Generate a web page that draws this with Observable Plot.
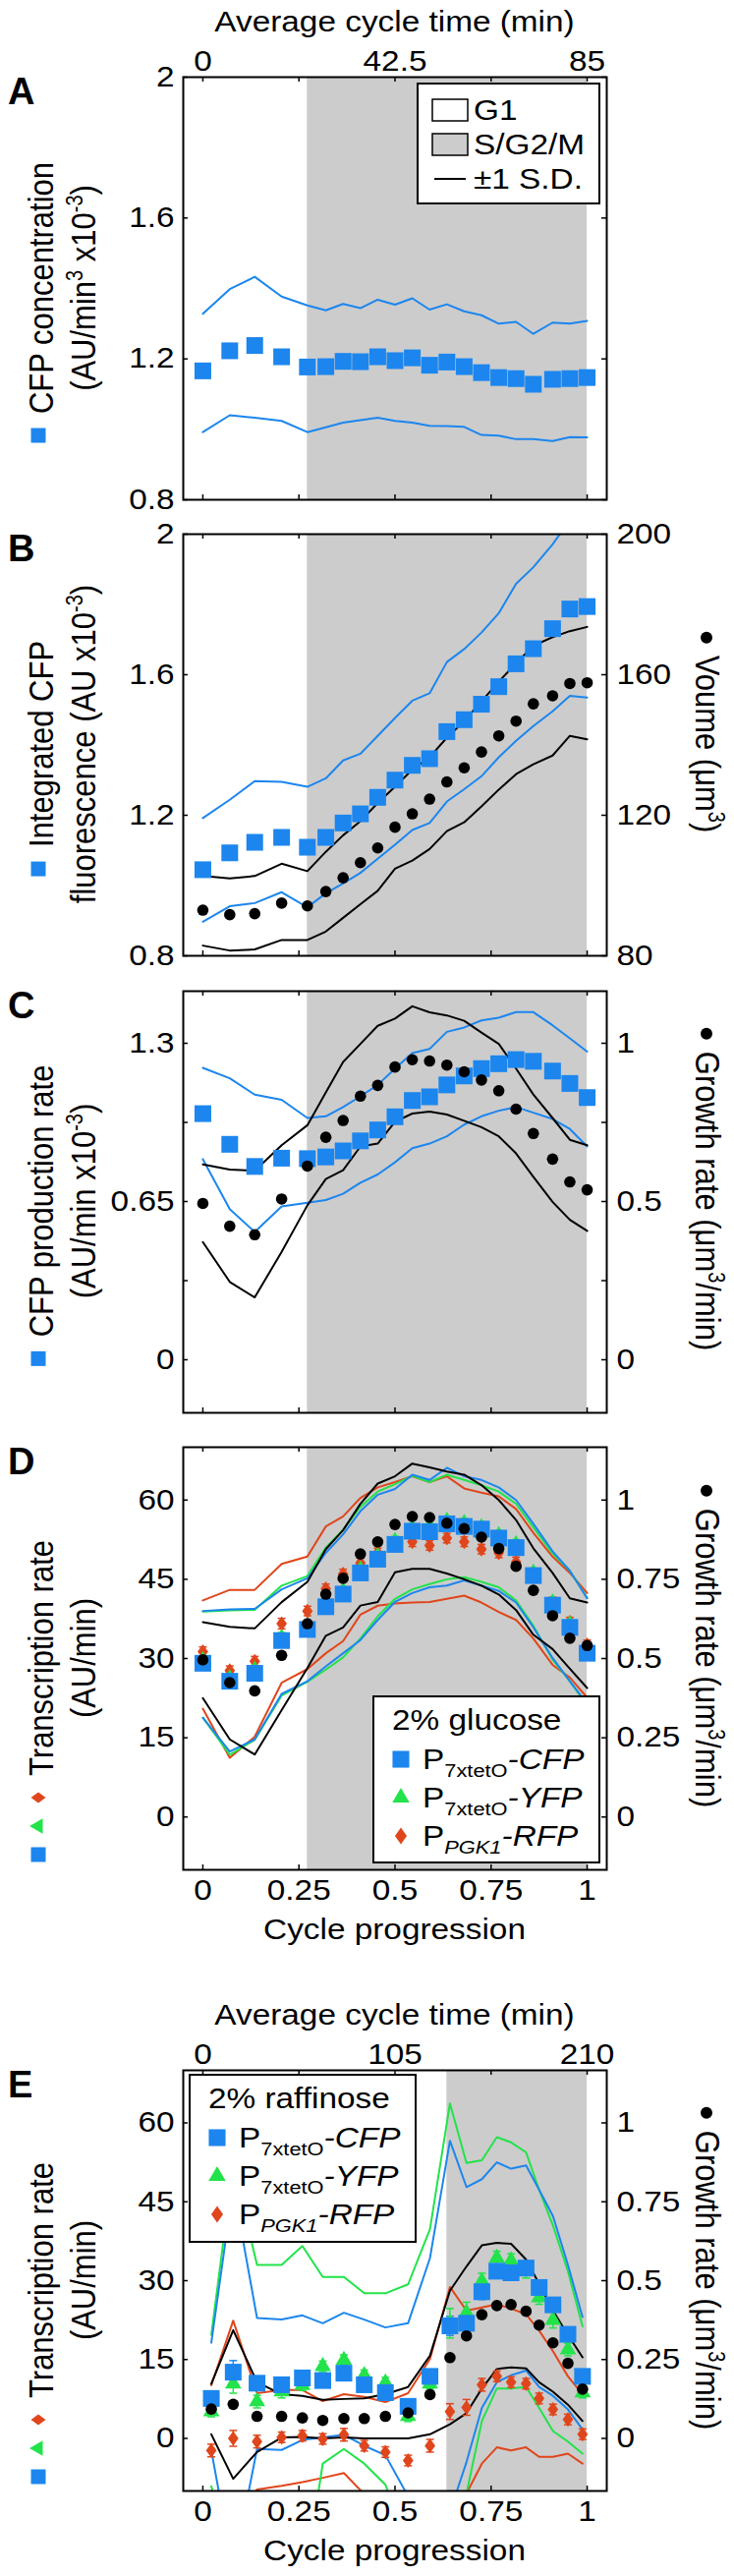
<!DOCTYPE html>
<html><head><meta charset="utf-8">
<script src="https://cdn.jsdelivr.net/npm/d3@7"></script>
<script src="https://cdn.jsdelivr.net/npm/@observablehq/plot@0.6"></script>
<style>
html,body{margin:0;padding:0;background:#fff;}
#fig{width:747px;}
#fig svg{display:block;overflow:visible;}
</style></head><body><div id="fig"></div>
<script>
// ---------- data ----------
const xGlu = [0,0.07,0.135,0.205,0.272,0.32,0.365,0.41,0.455,0.5,0.545,0.59,0.635,0.68,0.725,0.77,0.815,0.86,0.91,0.955,1];
const phaseGlu = [0.272, 1];
const xRaf = [0.022,0.079,0.141,0.205,0.259,0.312,0.367,0.420,0.475,0.534,0.591,0.643,0.686,0.726,0.765,0.802,0.841,0.875,0.911,0.950,0.988];
const phaseRaf = [0.635, 1];

const xTickVals = [0,0.25,0.5,0.75,1];
const xTickLabels = ["0","0.25","0.5","0.75","1"];
const topTickVals = [0,0.5,1];
const topLabelsGlu = ["0","42.5","85"];
const topLabelsRaf = ["0","105","210"];

// A
const cfpConc   = [1.166,1.223,1.238,1.206,1.177,1.178,1.193,1.192,1.206,1.195,1.203,1.182,1.191,1.178,1.161,1.147,1.144,1.128,1.142,1.144,1.147];
const cfpConcHi = [1.328,1.398,1.433,1.377,1.352,1.338,1.356,1.344,1.368,1.354,1.372,1.340,1.355,1.335,1.324,1.300,1.305,1.271,1.303,1.300,1.308];
const cfpConcLo = [0.992,1.040,1.033,1.024,0.992,1.006,1.019,1.026,1.033,1.024,1.019,1.010,1.009,1.007,0.984,0.982,0.972,0.972,0.967,0.978,0.977];
const aTicks = [0.8,1.2,1.6,2];
const aTickLabels = ["0.8","1.2","1.6","2"];

// B
const intCfp   = [1.045,1.093,1.123,1.137,1.109,1.137,1.178,1.204,1.251,1.300,1.342,1.361,1.438,1.472,1.516,1.566,1.631,1.674,1.731,1.787,1.794];
const intCfpHi = [1.192,1.244,1.297,1.295,1.281,1.305,1.356,1.375,1.426,1.477,1.526,1.547,1.636,1.673,1.720,1.775,1.859,1.906,1.971,2.04,2.10];
const intCfpLo = [0.897,0.941,0.950,0.981,0.938,0.978,1.006,1.036,1.076,1.116,1.158,1.178,1.239,1.274,1.311,1.365,1.412,1.454,1.496,1.540,1.535];
const volume   = [93,91.7,92,95,94.2,98.3,102.2,106.5,110.7,116.6,120.4,124.6,129.5,133.5,138,142.6,146.8,151.7,154,157.5,157.7];
const volumeHi = [102.7,102,102.7,106.2,104.1,109.6,114.3,118.3,123.5,128.1,133,136.5,142.1,146.8,152.4,158,163.3,168.2,170.7,172.4,173.6];
const volumeLo = [82.9,81.5,81.8,84.5,84.5,86.9,90.8,94.7,98.5,104.8,107.1,110.4,115.5,118,122.5,127.3,131.7,134.5,137,142.6,141.6];
const bTicks = [0.8,1.2,1.6,2];
const bTickLabels = ["0.8","1.2","1.6","2"];
const bRightLabels = ["80","120","160","200"];

// C
const cfpProd   = [1.011,0.885,0.794,0.828,0.826,0.833,0.858,0.899,0.944,0.998,1.065,1.080,1.129,1.166,1.196,1.216,1.233,1.226,1.186,1.135,1.077];
const cfpProdHi = [1.199,1.156,1.089,1.068,0.993,1.000,1.038,1.082,1.129,1.196,1.260,1.277,1.347,1.365,1.394,1.405,1.428,1.428,1.374,1.320,1.266];
const cfpProdLo = [0.824,0.619,0.525,0.630,0.645,0.656,0.682,0.727,0.761,0.811,0.869,0.888,0.918,0.966,1.000,1.023,1.038,1.015,0.989,0.948,0.876];
const growthC   = [0.494,0.422,0.395,0.508,0.612,0.703,0.756,0.833,0.867,0.925,0.948,0.944,0.931,0.910,0.884,0.850,0.792,0.715,0.634,0.562,0.537];
const growthCHi = [0.617,0.601,0.597,0.678,0.741,0.845,0.941,0.998,1.055,1.078,1.117,1.098,1.088,1.071,1.034,0.998,0.920,0.838,0.764,0.695,0.678];
const growthCLo = [0.372,0.246,0.197,0.341,0.488,0.571,0.599,0.674,0.683,0.752,0.778,0.784,0.775,0.755,0.735,0.706,0.652,0.578,0.499,0.442,0.407];
const cTicks = [0,0.325,0.65,0.975,1.3];
const cLabelTicks = [0,0.65,1.3];
const cTickLabels = ["0","0.65","1.3"];
const cRightLabels = ["0","0.5","1"];

// D (2% glucose)
const cfpTx   = [29.1,25.7,27.2,33.4,35.5,39.8,42.2,46.2,48.8,51.6,54.1,54.0,55.5,55.0,54.5,52.8,51.0,45.7,40.1,35.9,31.0];
const yfpTx   = [29.6,26.2,27.8,33.9,35.8,40.6,42.7,46.8,49.3,52.2,54.6,54.7,56.0,55.6,54.8,53.3,51.6,46.2,40.6,36.4,31.5];
const rfpTx   = [31.3,27.7,29.5,36.6,39.0,43.2,46.0,48.1,50.0,51.7,52.1,51.4,52.8,52.1,50.7,50.0,48.3,45.5,40.7,36.9,32.6];
const txErrD  = [0.9,0.9,0.9,1.0,0.9,0.9,0.9,0.9,0.9,0.9,0.9,0.9,0.9,0.9,0.9,0.9,0.9,0.9,0.9,0.9,0.9];
const growthD   = [0.496,0.424,0.398,0.510,0.610,0.703,0.753,0.830,0.868,0.923,0.948,0.945,0.927,0.910,0.883,0.847,0.791,0.715,0.635,0.564,0.541];
const growthDHi = [0.615,0.600,0.595,0.678,0.742,0.845,0.905,0.988,1.052,1.075,1.115,1.103,1.090,1.080,1.047,1.000,0.937,0.848,0.770,0.690,0.677];
const growthDLo = [0.375,0.245,0.197,0.337,0.470,0.572,0.598,0.667,0.678,0.772,0.783,0.783,0.768,0.750,0.730,0.702,0.653,0.575,0.530,0.468,0.407];
const cfpTxHi = [39.0,39.3,39.4,43.1,45.2,50.0,53.5,57.9,61.0,62.1,64.8,63.8,66.1,64.5,63.8,62.4,60.0,55.5,50.3,46.6,41.4];
const cfpTxLo = [18.8,12.4,14.7,23.3,25.7,28.5,31.0,33.5,37.3,40.7,42.4,43.5,43.8,44.8,43.8,42.8,40.6,35.9,30.1,25.7,21.4];
const yfpTxHi = [38.9,39.1,39.2,43.8,45.6,51.0,54.4,58.7,61.6,63.0,64.6,63.4,64.8,63.8,62.8,61.6,59.3,54.8,49.9,46.6,41.5];
const yfpTxLo = [18.8,11.8,14.6,23.0,25.6,27.9,30.2,33.8,38.0,41.3,43.1,44.1,45.0,45.4,44.5,43.5,41.0,36.2,29.8,25.7,21.1];
const rfpTxHi = [41.0,43.0,43.0,47.9,49.3,55.0,56.9,60.4,62.4,63.4,64.5,63.4,64.5,62.2,61.4,60.7,58.3,53.8,49.3,46.2,42.4];
const rfpTxLo = [20.5,11.2,15.2,25.4,28.0,31.0,33.3,38.3,40.0,40.4,40.6,40.7,41.3,41.9,40.6,38.8,37.3,33.8,28.8,26.4,22.6];
const txTicks = [0,15,30,45,60];
const txTickLabels = ["0","15","30","45","60"];
const growthTickLabels = ["0","0.25","0.5","0.75","1"];

// E (2% raffinose)
const cfpRaf = [7.6,12.6,10.5,10.2,11.5,11.0,12.4,10.2,8.7,6.1,11.8,21.4,21.9,27.9,31.8,31.5,32.4,28.7,25.4,19.8,11.8];
const yfpRaf = [5.1,10.4,7.0,8.9,10.1,13.7,14.9,12.0,10.6,4.2,10.4,21.9,23.9,29.9,34.3,33.8,31.8,26.8,22.5,16.9,8.7];
const rfpRaf = [-2.3,0.0,-0.6,0.2,0.5,-0.1,0.7,-1.4,-2.6,-4.2,-1.4,5.1,5.9,10.2,11.8,10.7,10.4,7.6,5.5,3.6,0.8];
const cfpRafErr = [1.2,2.2,1.2,1.2,1.2,1.2,1.2,1.2,1.2,1.2,1.2,1.8,1.8,1.5,1.3,1.3,1.3,1.3,1.3,1.2,1.0];
const yfpRafErr = [1.0,1.8,1.2,1.2,1.0,1.0,1.0,1.0,1.0,1.0,1.0,2.8,2.0,1.5,1.3,1.3,1.3,1.3,1.5,1.2,1.0];
const rfpRafErr = [1.2,1.5,1.2,1.0,1.0,1.0,1.2,1.0,1.0,1.0,1.2,1.5,1.5,1.2,1.0,1.0,1.0,1.0,1.0,1.0,1.0];
const growthE   = [0.093,0.108,0.070,0.070,0.065,0.057,0.063,0.063,0.070,0.081,0.139,0.256,0.325,0.392,0.421,0.424,0.403,0.359,0.303,0.238,0.156];
const growthEHi = [0.173,0.343,0.178,0.140,0.135,0.122,0.125,0.127,0.140,0.163,0.262,0.468,0.545,0.612,0.620,0.617,0.567,0.490,0.405,0.328,0.257];
const growthELo = [0.013,-0.128,-0.043,0.003,0.005,0,0.003,0,0,0,0.013,0.045,0.080,0.158,0.220,0.225,0.222,0.178,0.148,0.107,0.055];
const cfpRafHi = [18.2,48,22.9,22.6,23.4,21.9,23.9,22.6,21.1,21.9,34.3,56.6,47.8,49.3,52.5,51.3,51.9,47.3,42.3,33.0,23.1];
const cfpRafLo = [-2.3,-25,-2.0,-2.2,-0.3,0.2,0.7,-1.4,-3.2,-11,-15,-14,-4.5,5.8,10.7,12.0,12.9,9.8,8.1,5.5,1.7];
const yfpRafHi = [19.7,52,33.0,33.0,36.6,30.7,30.7,27.6,27.6,29.3,39.8,63.7,52.4,52.9,57.3,56.3,54.4,47.3,40.5,31.8,21.3];
const yfpRafLo = [-9.1,-25,-25,-30,-30,-4.8,-2.0,-4.8,-8.8,-20,-25,-30,-10.5,3.3,9.5,9.5,9.8,5.8,1.4,-0.6,-2.9];
const rfpRafHi = [10.1,22.4,8.6,9.2,9.2,7.1,8.4,7.9,6.9,8.6,15.1,28.8,24.3,24.9,25.5,24.7,23.6,20.5,16.6,11.8,8.4];
const rfpRafLo = [-25,-25,-9.7,-9.0,-8.3,-7.5,-6.6,-10.6,-25,-25,-25,-25,-10.5,-4.8,-1.7,-2.3,-1.7,-3.5,-3.5,-2.9,-4.8];

// ---------- style ----------
const W = 747, ML = 186, MR = 130;
const X_DOMAIN = [-0.051, 1.051];
const FONT = "'Liberation Sans', Arial, Helvetica, sans-serif";
const BLUE = "#1c86ee", GREEN = "#22e34a", RED = "#e0461c", GRAY = "#cccccc";
const SQ_R = 9.6, CIR_R = 5.8, TRI_R = 6.2, DIA_R = 5;
const FS = 29;      // horizontal text size
const SX = 1.15;    // horizontal text stretch seen in the figure
const FS_ROT = 31;  // rotated axis titles

const capSym = {draw(ctx, size){ const w = Math.sqrt(size/Math.PI); ctx.moveTo(-w,0); ctx.lineTo(w,0); }};
const diaSym = {draw(ctx, size){ const r = Math.sqrt(size/Math.PI); const h = r*1.5, w = r*1.08;
  ctx.moveTo(0,-h); ctx.lineTo(w,0); ctx.lineTo(0,h); ctx.lineTo(-w,0); ctx.closePath(); }};

const fmtMap = (vals, labels) => { const m = new Map(vals.map((v,i)=>[v, labels[i]])); return d => m.get(d); };
const zip = (xs, cols) => xs.map((x,i) => { const o = {x}; for (const k in cols) o[k] = cols[k][i]; return o; });

function line(rows, key, color, f) {
  return Plot.line(rows, {x:"x", y: f ? d => f(d[key]) : key, stroke: color, strokeWidth: 2, clip: true});
}
function errMarks(rows, key, ekey, color) {
  return [
    Plot.ruleX(rows, {x:"x", y1: d=>d[key]-d[ekey], y2: d=>d[key]+d[ekey], stroke: color, strokeWidth: 1.5, clip: true}),
    Plot.dot(rows, {x:"x", y: d=>d[key]+d[ekey], symbol: capSym, r: 4, stroke: color, strokeWidth: 1.5, fill: "none", clip: true}),
    Plot.dot(rows, {x:"x", y: d=>d[key]-d[ekey], symbol: capSym, r: 4, stroke: color, strokeWidth: 1.5, fill: "none", clip: true})
  ];
}

// widen the axis tick labels horizontally (keeps their y offsets untouched)
function stretchAxisText(svg) {
  d3.select(svg).selectAll('g[aria-label$="tick label"] text').each(function() {
    const t = d3.select(this);
    const xa = t.attr("x");
    const x = xa != null && isFinite(+xa) ? +xa : 0;
    if (xa != null && isFinite(+xa)) t.attr("x", null);
    const tr = t.attr("transform") || "";
    t.attr("transform", `${tr} translate(${x},0) scale(${SX},1)`);
  });
}

function panel(o) {
  const plotW = W - ML - MR, plotH = o.height - o.mt - o.mb;
  const tickStyle = {stroke: "black", strokeWidth: 1.5};
  const marks = [
    Plot.rect([{x1: o.phase[0], x2: o.phase[1], y1: o.yDomain[0], y2: o.yDomain[1]}], {x1:"x1", x2:"x2", y1:"y1", y2:"y2", fill: GRAY}),
    ...o.marks,
    Plot.tickY(o.leftTicks, {y: d=>d, insetRight: plotW - 5, ...tickStyle}),
    Plot.tickY(o.rightTicks, {y: d=>d, insetLeft: plotW - 5, ...tickStyle}),
    Plot.tickX(xTickVals, {x: d=>d, insetBottom: plotH - 5, ...tickStyle}),
    Plot.tickX(xTickVals, {x: d=>d, insetTop: plotH - 5, ...tickStyle}),
    Plot.axisY(o.leftLabelTicks, {anchor: "left", tickSize: 0, tickPadding: 9, tickFormat: fmtMap(o.leftLabelTicks, o.leftLabels), label: null}),
  ];
  if (o.rightLabels) marks.push(Plot.axisY(o.leftLabelTicks, {anchor: "right", tickSize: 0, tickPadding: 10, tickFormat: fmtMap(o.leftLabelTicks, o.rightLabels), label: null}));
  if (o.topLabels) marks.push(Plot.axisX(topTickVals, {anchor: "top", tickSize: 0, tickPadding: 7, tickFormat: fmtMap(topTickVals, o.topLabels), label: null}));
  if (o.bottomLabels) marks.push(Plot.axisX(xTickVals, {anchor: "bottom", tickSize: 0, tickPadding: 10, tickFormat: fmtMap(xTickVals, xTickLabels), label: null}));
  marks.push(Plot.frame({stroke: "black", strokeWidth: 2}));
  const svg = Plot.plot({
    width: W, height: o.height, marginLeft: ML, marginRight: MR, marginTop: o.mt, marginBottom: o.mb,
    x: {domain: X_DOMAIN, axis: null}, y: {domain: o.yDomain, axis: null},
    style: {fontFamily: FONT, fontSize: FS + "px", color: "black", background: "white", overflow: "visible"},
    marks
  });
  document.getElementById("fig").appendChild(svg);
  stretchAxisText(svg);
  return svg;
}

// ---------- text helpers ----------
function addParts(text, parts, size) {
  const base = 0.35 * size;
  let cur = 0;
  for (const p of parts) {
    const q = typeof p === "string" ? {t: p} : p;
    const target = base + (q.sup ? -0.38*size : q.sub ? 0.28*size : 0);
    const ts = text.append("tspan").text(q.t).attr("dy", target - cur);
    cur = target;
    if (q.sup || q.sub) ts.attr("font-size", Math.round(size*0.66));
    if (q.it) ts.attr("font-style", "italic");
  }
}
function markerPath(g, type, cx, cy, rot, scale = 1) {
  let d, fill;
  if (type === "square") { d = d3.symbol(d3.symbolSquare, 15*15*scale)(); fill = BLUE; }
  else if (type === "triangle") { d = d3.symbol(d3.symbolTriangle, 105*scale)(); fill = GREEN; }
  else if (type === "diamond") { d = d3.symbol(diaSym, Math.PI*25*scale)(); fill = RED; }
  else { d = d3.symbol(d3.symbolCircle, Math.PI*36*scale)(); fill = "black"; }
  g.append("path").attr("d", d).attr("fill", fill).attr("transform", `translate(${cx},${cy}) rotate(${rot})`);
}
function textGroup(svg, size) {
  return d3.select(svg).append("g").attr("font-family", FONT).attr("font-size", size)
    .attr("fill", "black").attr("text-anchor", "start").attr("font-weight", "normal");
}
function leftLabel(svg, o) {
  const g = textGroup(svg, FS_ROT);
  const t1 = g.append("text").attr("text-anchor", "middle").attr("transform", `translate(42,${o.cy}) rotate(-90) scale(1,${SX})`);
  addParts(t1, o.line1, FS_ROT);
  const t2 = g.append("text").attr("text-anchor", "middle").attr("transform", `translate(85,${o.cy}) rotate(-90) scale(1,${SX})`);
  addParts(t2, o.line2, FS_ROT);
  const L = t1.node().getComputedTextLength();
  let y = o.cy + L/2 + 22;
  o.markers.forEach((m, i) => { if (i) y += 29; markerPath(g, m, 39, y, -90); });
}
function rightLabel(svg, o) {
  const g = textGroup(svg, FS_ROT);
  const t = g.append("text").attr("text-anchor", "middle").attr("transform", `translate(720,${o.cy}) rotate(90) scale(1,${SX})`);
  addParts(t, o.parts, FS_ROT);
  const L = t.node().getComputedTextLength();
  markerPath(g, "circle", 719, o.cy - L/2 - 18, 0);
}
function letter(svg, ch, mt) {
  textGroup(svg, 38).append("text").attr("x", 8).attr("y", mt + 28).attr("font-weight", "bold").text(ch);
}
function title(svg, str, cy) {
  const x = svg.scale("x");
  const cx = (x.apply(0) + x.apply(1))/2;
  textGroup(svg, FS).append("text").attr("transform", `translate(${cx},${cy}) scale(${SX},1)`)
    .attr("dy", "0.35em").attr("text-anchor", "middle").text(str);
}
function plainText(g, x, cy, str) {
  g.append("text").attr("transform", `translate(${x},${cy}) scale(${SX},1)`).attr("dy", "0.35em").text(str);
}
function txLegend(svg, o) {
  const g = textGroup(svg, FS);
  g.append("rect").attr("x", o.x).attr("y", o.y).attr("width", o.w).attr("height", o.h)
    .attr("fill", "white").attr("stroke", "black").attr("stroke-width", 2);
  const t0 = g.append("text").attr("transform", `translate(${o.x + 19},${o.y + 24}) scale(${SX},1)`);
  addParts(t0, [o.title], FS);
  const entries = [
    ["square", ["P", {t:"7xtetO", sub:true}, {t:"-CFP", it:true}]],
    ["triangle", ["P", {t:"7xtetO", sub:true}, {t:"-YFP", it:true}]],
    ["diamond", ["P", {t:"PGK1", sub:true, it:true}, {t:"-RFP", it:true}]]
  ];
  entries.forEach(([m, parts], i) => {
    const cy = o.y + 64 + i*39;
    markerPath(g, m, o.x + 28, cy, 0, m === "square" ? 1.3 : 1.25);
    const t = g.append("text").attr("transform", `translate(${o.x + 50},${cy}) scale(${SX},1)`);
    addParts(t, parts, FS);
  });
}

// ---------- Panel A ----------
const dA = zip(xGlu, {v: cfpConc, hi: cfpConcHi, lo: cfpConcLo});
const svgA = panel({
  height: 525, mt: 78, mb: 17, yDomain: [0.8, 2], phase: phaseGlu,
  leftTicks: aTicks, rightTicks: aTicks, leftLabelTicks: aTicks, leftLabels: aTickLabels,
  topLabels: topLabelsGlu,
  marks: [line(dA, "hi", BLUE), line(dA, "lo", BLUE),
    Plot.dot(dA, {x:"x", y:"v", symbol:"square", r: SQ_R, fill: BLUE})]
});
title(svgA, "Average cycle time (min)", 22);
letter(svgA, "A", 78);
leftLabel(svgA, {cy: 293, line1: ["CFP concentration"], line2: ["(AU/min", {t:"3", sup:true}, " x10", {t:"-3", sup:true}, ")"], markers: ["square"]});
{
  const g = textGroup(svgA, FS);
  g.append("rect").attr("x", 425).attr("y", 85).attr("width", 185).attr("height", 122).attr("fill", "white").attr("stroke", "black").attr("stroke-width", 2);
  g.append("rect").attr("x", 440).attr("y", 101).attr("width", 36).attr("height", 22).attr("fill", "white").attr("stroke", "black").attr("stroke-width", 1.5);
  plainText(g, 482, 112, "G1");
  g.append("rect").attr("x", 440).attr("y", 136).attr("width", 36).attr("height", 22).attr("fill", GRAY).attr("stroke", "black").attr("stroke-width", 1.5);
  plainText(g, 482, 147, "S/G2/M");
  g.append("line").attr("x1", 442).attr("x2", 474).attr("y1", 182).attr("y2", 182).attr("stroke", "black").attr("stroke-width", 2);
  plainText(g, 482, 182, "\u00B11 S.D.");
}

// ---------- Panel B ----------
const dB = zip(xGlu, {v: intCfp, hi: intCfpHi, lo: intCfpLo, vol: volume, volHi: volumeHi, volLo: volumeLo});
const volToLeft = v => v / 100;
const svgB = panel({
  height: 465, mt: 18, mb: 18, yDomain: [0.8, 2], phase: phaseGlu,
  leftTicks: bTicks, rightTicks: bTicks, leftLabelTicks: bTicks, leftLabels: bTickLabels, rightLabels: bRightLabels,
  marks: [line(dB, "hi", BLUE), line(dB, "lo", BLUE), line(dB, "volHi", "black", volToLeft), line(dB, "volLo", "black", volToLeft),
    Plot.dot(dB, {x:"x", y:"v", symbol:"square", r: SQ_R, fill: BLUE}),
    Plot.dot(dB, {x:"x", y: d => volToLeft(d.vol), r: CIR_R, fill: "black"})]
});
letter(svgB, "B", 18);
leftLabel(svgB, {cy: 232, line1: ["Integrated CFP"], line2: ["fluorescence (AU x10", {t:"-3", sup:true}, ")"], markers: ["square"]});
rightLabel(svgB, {cy: 232, parts: ["Voume (\u03BCm", {t:"3", sup:true}, ")"]});

// ---------- Panel C ----------
const dC = zip(xGlu, {v: cfpProd, hi: cfpProdHi, lo: cfpProdLo, g: growthC, gHi: growthCHi, gLo: growthCLo});
const gToC = g => g * 1.3;
const svgC = panel({
  height: 465, mt: 18, mb: 18, yDomain: [-0.218, 1.514], phase: phaseGlu,
  leftTicks: cTicks, rightTicks: cTicks, leftLabelTicks: cLabelTicks, leftLabels: cTickLabels, rightLabels: cRightLabels,
  marks: [line(dC, "hi", BLUE), line(dC, "lo", BLUE), line(dC, "gHi", "black", gToC), line(dC, "gLo", "black", gToC),
    Plot.dot(dC, {x:"x", y:"v", symbol:"square", r: SQ_R, fill: BLUE}),
    Plot.dot(dC, {x:"x", y: d => gToC(d.g), r: CIR_R, fill: "black"})]
});
letter(svgC, "C", 18);
leftLabel(svgC, {cy: 232, line1: ["CFP production rate"], line2: ["(AU/min x10", {t:"-3", sup:true}, ")"], markers: ["square"]});
rightLabel(svgC, {cy: 232, parts: ["Growth rate (\u03BCm", {t:"3", sup:true}, "/min)"]});

// ---------- Panel D ----------
const gToTx = g => g * 60;
const dD = zip(xGlu, {cfp: cfpTx, yfp: yfpTx, rfp: rfpTx, e: txErrD, g: growthD, gHi: growthDHi, gLo: growthDLo,
  cHi: cfpTxHi, cLo: cfpTxLo, yHi: yfpTxHi, yLo: yfpTxLo, rHi: rfpTxHi, rLo: rfpTxLo});
function txMarks(rows, ek) {
  return [
    line(rows, "rHi", RED), line(rows, "rLo", RED),
    line(rows, "yHi", GREEN), line(rows, "yLo", GREEN),
    line(rows, "cHi", BLUE), line(rows, "cLo", BLUE),
    line(rows, "gHi", "black", gToTx), line(rows, "gLo", "black", gToTx),
    ...errMarks(rows, "rfp", ek.r, RED), ...errMarks(rows, "yfp", ek.y, GREEN), ...errMarks(rows, "cfp", ek.c, BLUE),
    Plot.dot(rows, {x:"x", y:"rfp", symbol: diaSym, r: DIA_R, fill: RED, clip: true}),
    Plot.dot(rows, {x:"x", y:"yfp", symbol: "triangle", r: TRI_R, fill: GREEN, clip: true}),
    Plot.dot(rows, {x:"x", y:"cfp", symbol: "square", r: SQ_R, fill: BLUE, clip: true}),
    Plot.dot(rows, {x:"x", y: d => gToTx(d.g), r: CIR_R, fill: "black", clip: true})
  ];
}
const svgD = panel({
  height: 535, mt: 17, mb: 88, yDomain: [-10, 70], phase: phaseGlu,
  leftTicks: txTicks, rightTicks: txTicks, leftLabelTicks: txTicks, leftLabels: txTickLabels, rightLabels: growthTickLabels,
  bottomLabels: true,
  marks: txMarks(dD, {r: "e", y: "e", c: "e"})
});
letter(svgD, "D", 17);
title(svgD, "Cycle progression", 447 + 61);
leftLabel(svgD, {cy: 232, line1: ["Transcription rate"], line2: ["(AU/min)"], markers: ["diamond", "triangle", "square"]});
rightLabel(svgD, {cy: 232, parts: ["Growth rate (\u03BCm", {t:"3", sup:true}, "/min)"]});
txLegend(svgD, {x: 380, y: 271, w: 230, h: 169, title: "2% glucose"});

// ---------- Panel E ----------
const dE = zip(xRaf, {cfp: cfpRaf, yfp: yfpRaf, rfp: rfpRaf, ce: cfpRafErr, ye: yfpRafErr, re: rfpRafErr,
  g: growthE, gHi: growthEHi, gLo: growthELo, cHi: cfpRafHi, cLo: cfpRafLo, yHi: yfpRafHi, yLo: yfpRafLo, rHi: rfpRafHi, rLo: rfpRafLo});
const svgE = panel({
  height: 631, mt: 116, mb: 87, yDomain: [-10, 70], phase: phaseRaf,
  leftTicks: txTicks, rightTicks: txTicks, leftLabelTicks: txTicks, leftLabels: txTickLabels, rightLabels: growthTickLabels,
  topLabels: topLabelsRaf, bottomLabels: true,
  marks: txMarks(dE, {r: "re", y: "ye", c: "ce"})
});
letter(svgE, "E", 116);
title(svgE, "Average cycle time (min)", 60);
title(svgE, "Cycle progression", 544 + 61);
leftLabel(svgE, {cy: 330, line1: ["Transcription rate"], line2: ["(AU/min)"], markers: ["diamond", "triangle", "square"]});
rightLabel(svgE, {cy: 330, parts: ["Growth rate (\u03BCm", {t:"3", sup:true}, "/min)"]});
txLegend(svgE, {x: 193, y: 121, w: 230, h: 170, title: "2% raffinose"});
</script></body></html>
